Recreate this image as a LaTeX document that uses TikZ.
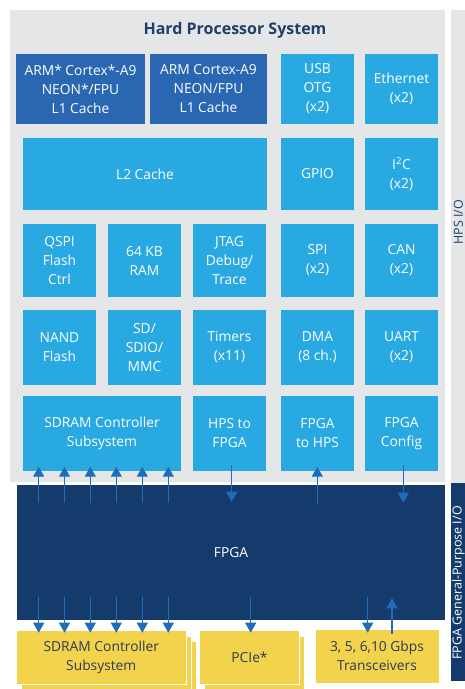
\documentclass[tikz,border=0pt]{standalone}
\usepackage{fontspec}
\setmainfont{Open Sans}
\usetikzlibrary{arrows.meta}
\definecolor{hpsgray}{HTML}{E5E6E8}
\definecolor{lblue}{HTML}{28A9E1}
\definecolor{armblue}{HTML}{2A67B2}
\definecolor{navy}{HTML}{153B6C}
\definecolor{titlenavy}{HTML}{1F3E6B}
\definecolor{ylw}{HTML}{F2D34B}
\definecolor{ytext}{HTML}{2C3B57}
\definecolor{arrowblue}{HTML}{1E6DBA}
\tikzset{
  box/.style={anchor=north west, inner sep=0pt, outer sep=0pt, align=center, text=white},
  lb/.style={box, fill=lblue},
  armbox/.style={box, fill=armblue},
  ybox/.style={box, fill=ylw, draw=white, line width=1pt, text=ytext},
  sidetext/.style={rotate=90, inner sep=0pt, font=\fontsize{12.5}{14}\selectfont},
  arr/.style={draw=arrowblue, line width=1.1pt, -{Triangle[width=11pt,length=10pt]}}
}
\newcommand\blk[7]{\node[#1, minimum width={#5-#3}, minimum height={#6-#4}] (#2) at (#3,#4) {#7};}
\begin{document}
\begin{tikzpicture}[x=1pt,y=-1pt, font=\fontsize{13.8}{19}\selectfont]
\useasboundingbox (0,0) rectangle (465,689);
\fill[white] (0,0) rectangle (465,689);
% HPS background and side strips
\blk{box,fill=hpsgray}{hps}{10}{10}{445}{482}{}
\blk{box,fill=hpsgray}{hpsstrip}{451}{10}{472}{483}{}
\blk{box,fill=navy}{fpgastrip}{451}{483}{472}{681}{}
\node[font=\fontsize{16}{18}\selectfont\bfseries, text=titlenavy] (title) at (235,30) {Hard Processor System};
\node[sidetext, text=titlenavy] (hpsio) at (458.5,222) {HPS I/O};
\node[sidetext, text=white] (fgpio) at (458.3,583) {FPGA General-Purpose I/O};
% row 1
\blk{armbox}{arm1}{16}{54}{145}{124}{ARM* Cortex*-A9\\NEON*/FPU\\L1 Cache}
\blk{armbox}{arm2}{150}{54}{267}{124}{ARM Cortex-A9\\NEON/FPU\\L1 Cache}
\blk{lb}{usb}{281}{54}{354}{124}{USB\\OTG\\(x2)}
\blk{lb}{eth}{365}{54}{438}{124}{Ethernet\\(x2)}
% row 2
\blk{lb}{l2}{23}{138}{267}{210}{L2 Cache}
\blk{lb}{gpio}{281}{138}{354}{210}{GPIO}
\blk{lb}{i2c}{365}{138}{438}{210}{I\textsuperscript{2}C\\(x2)}
% row 3
\blk{lb}{qspi}{23}{224}{96}{297}{QSPI\\Flash\\Ctrl}
\blk{lb}{ram}{108}{224}{181}{297}{64 KB\\RAM}
\blk{lb}{jtag}{193}{224}{266}{297}{JTAG\\Debug/\\Trace}
\blk{lb}{spi}{281}{224}{354}{297}{SPI\\(x2)}
\blk{lb}{can}{365}{224}{438}{297}{CAN\\(x2)}
% row 4
\blk{lb}{nand}{23}{310}{96}{385}{NAND\\Flash}
\blk{lb}{sd}{108}{310}{181}{385}{SD/\\SDIO/\\MMC}
\blk{lb}{timers}{193}{310}{266}{385}{Timers\\(x11)}
\blk{lb}{dma}{281}{310}{354}{385}{DMA\\(8 ch.)}
\blk{lb}{uart}{365}{310}{438}{385}{UART\\(x2)}
% row 5
\blk{lb}{sdramc}{23}{396}{181}{471}{SDRAM Controller\\Subsystem}
\blk{lb}{h2f}{193}{396}{266}{471}{HPS to\\FPGA}
\blk{lb}{f2h}{281}{396}{354}{471}{FPGA\\to HPS}
\blk{lb}{cfg}{365}{396}{438}{471}{FPGA\\Config}
% FPGA
\blk{box,fill=navy}{fpga}{17}{485}{445}{620}{FPGA}
% yellow boxes
\blk{ybox}{sdramy3}{26}{641}{196}{695}{}
\blk{ybox}{sdramy2}{21}{636}{191}{690}{}
\blk{ybox}{sdramy}{16.5}{630}{186}{684}{SDRAM Controller\\Subsystem}
\blk{ybox}{pciey2}{204.5}{636}{304.5}{690}{}
\blk{ybox}{pcie}{199.5}{630}{299.5}{684}{PCIe*}
\blk{ybox}{trans}{315}{629}{439}{683}{3, 5, 6,10 Gbps\\Transceivers}
% arrows HPS <-> FPGA
\foreach \i/\x in {1/38.7,2/64.5,3/90.3,4/116.3,5/142.3,6/168.3}{
  \coordinate (ua\i) at (\x,502.7);
  \coordinate (ub\i) at (\x,466.7);
  \draw[arr] (ua\i) -- (ub\i);
  \coordinate (da\i) at (\x,596.7);
  \coordinate (db\i) at (\x,632.7);
  \draw[arr] (da\i) -- (db\i);
}
\coordinate (h2fa) at (231.7,465); \coordinate (h2fb) at (231.7,501.7);
\draw[arr] (h2fa) -- (h2fb);
\coordinate (f2ha) at (317.3,504); \coordinate (f2hb) at (317.3,466.7);
\draw[arr] (f2ha) -- (f2hb);
\coordinate (cfga) at (403.3,465); \coordinate (cfgb) at (403.3,502.7);
\draw[arr] (cfga) -- (cfgb);
\coordinate (pca) at (250.7,596.7); \coordinate (pcb) at (250.7,632.7);
\draw[arr] (pca) -- (pcb);
\coordinate (tda) at (367.7,596.7); \coordinate (tdb) at (367.7,632.7);
\draw[arr] (tda) -- (tdb);
\coordinate (tua) at (392,634); \coordinate (tub) at (392,598.3);
\draw[arr] (tua) -- (tub);
\end{tikzpicture}
\end{document}
